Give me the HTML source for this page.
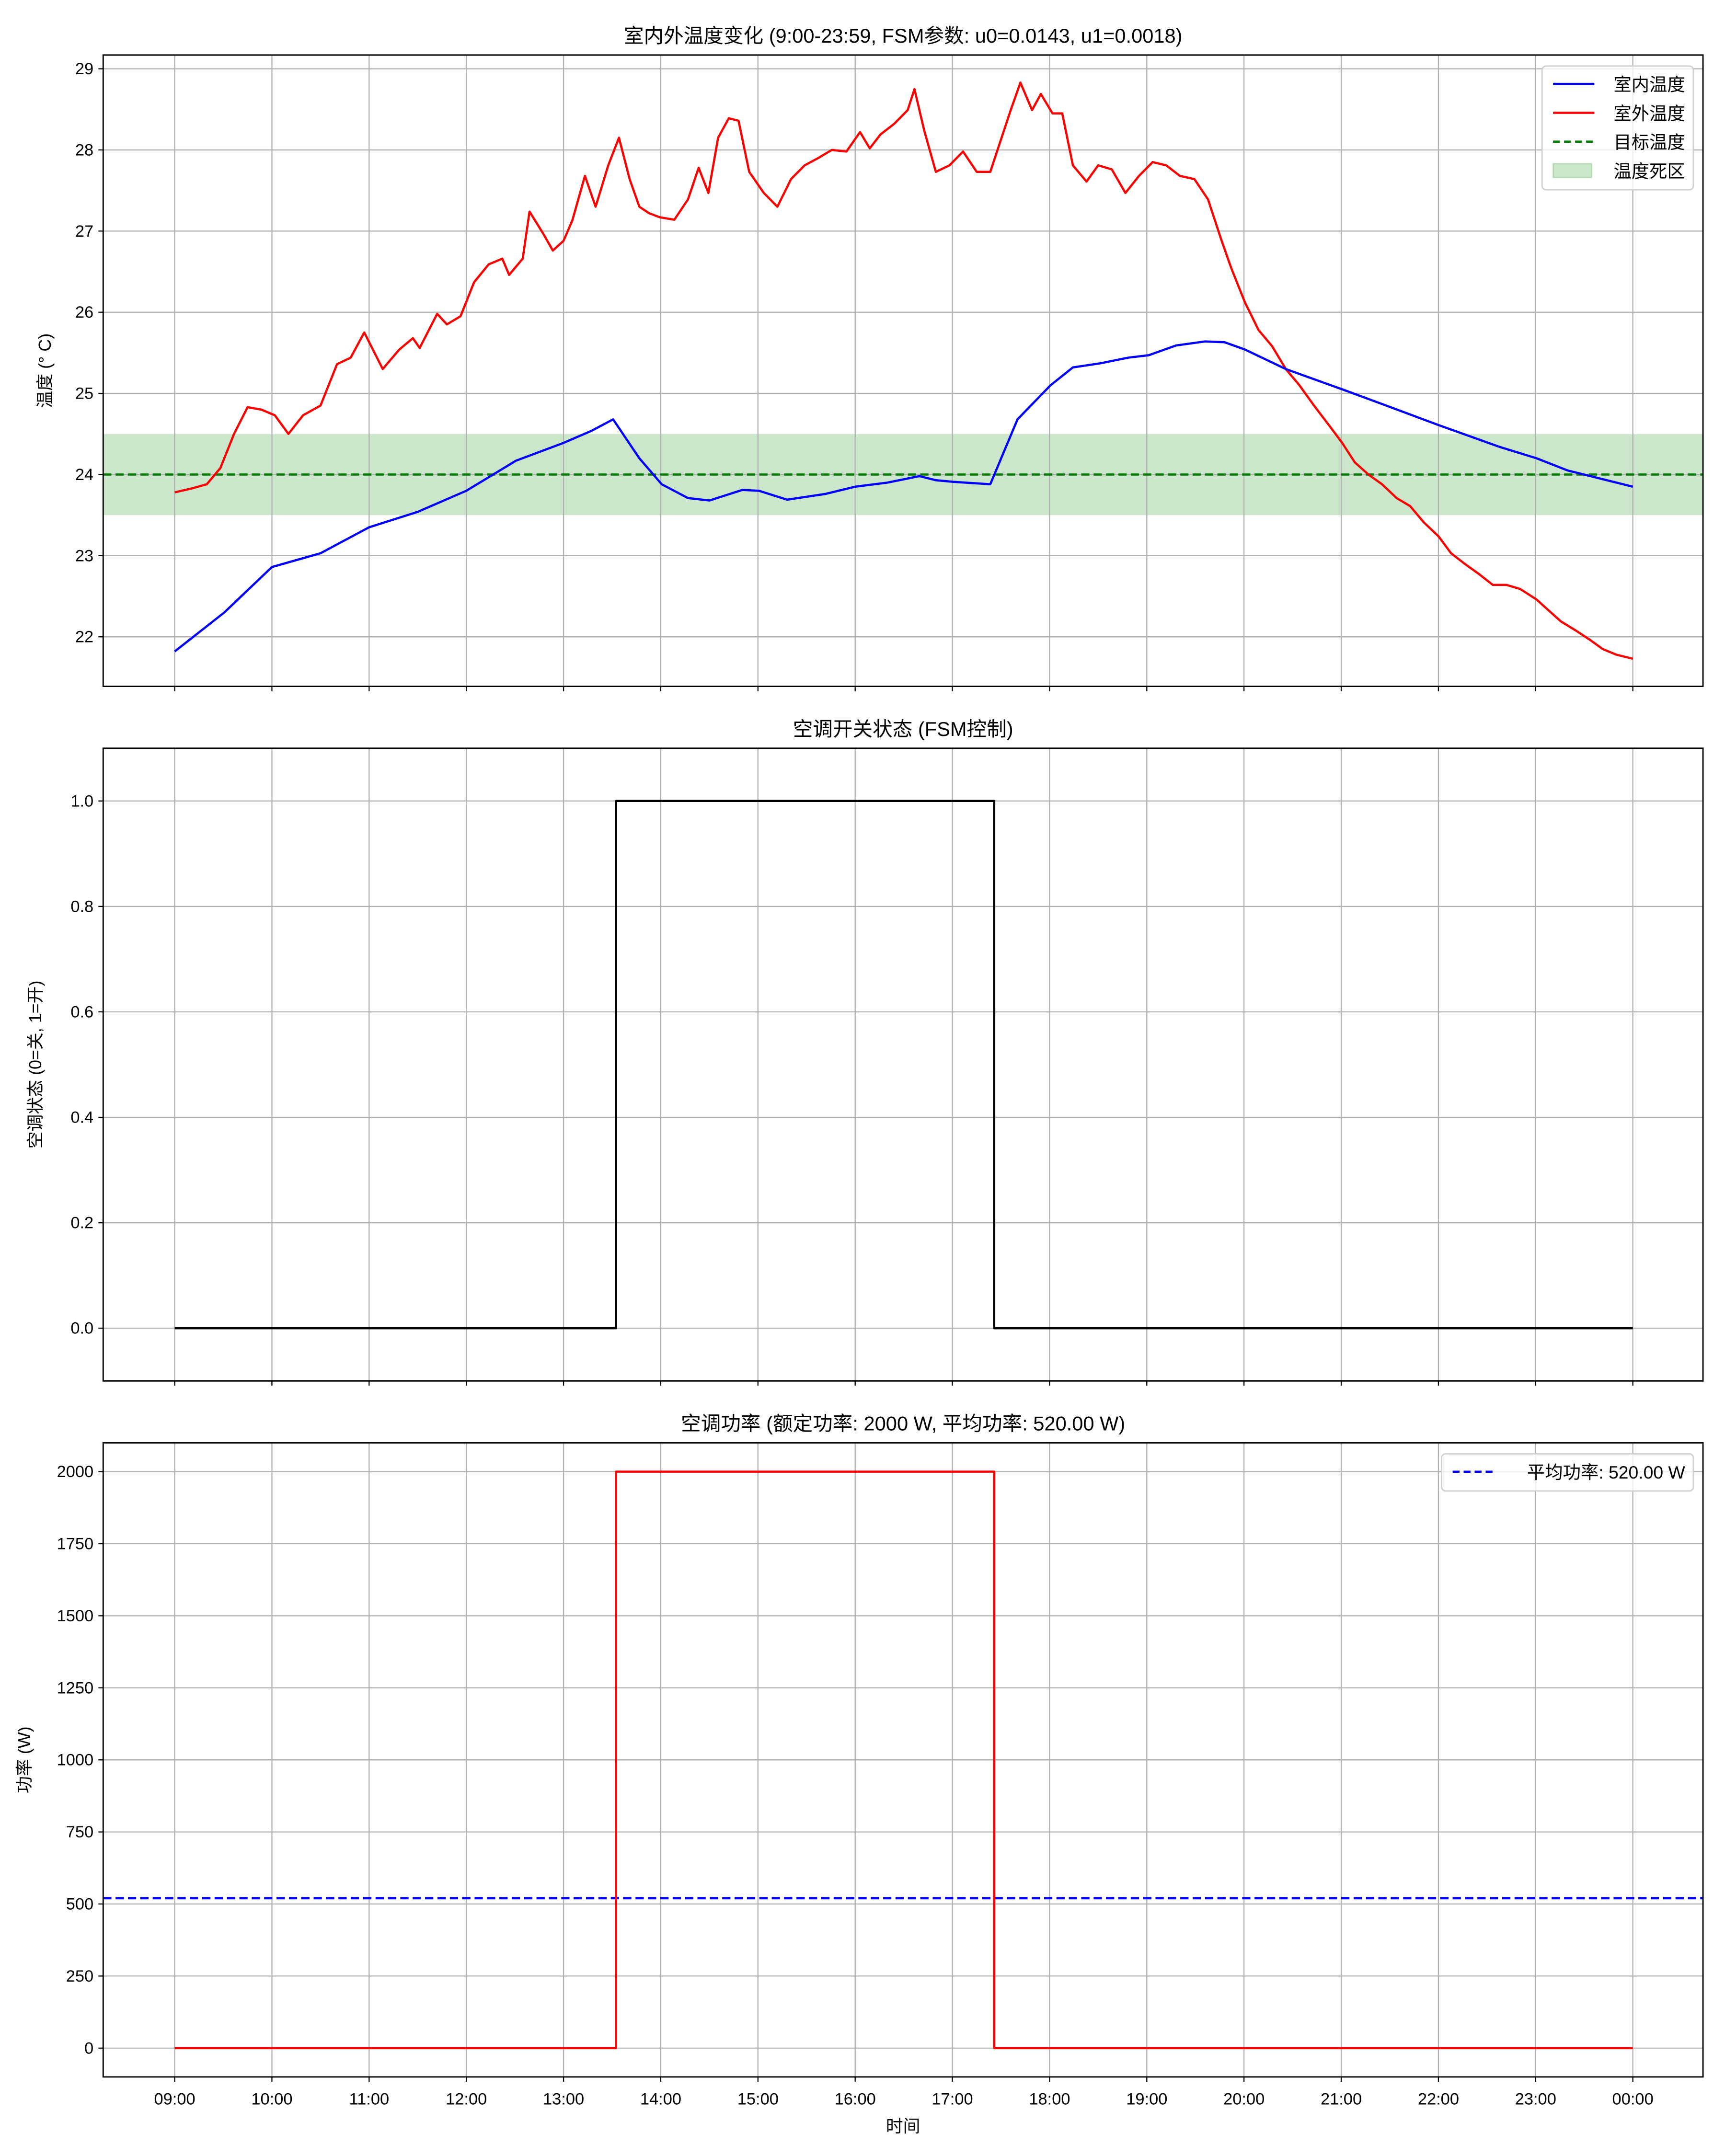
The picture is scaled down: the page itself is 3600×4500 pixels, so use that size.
<!DOCTYPE html>
<html><head><meta charset="utf-8"><style>
html,body{margin:0;padding:0;background:#fff;}
svg{display:block;}
text{font-family:"Liberation Sans","Noto Sans CJK SC",sans-serif;fill:#000;}
</style></head><body>
<svg id="fig" width="3600" height="4500" viewBox="0 0 1254 1567.5" xmlns="http://www.w3.org/2000/svg"></svg>
<script>
// ---- data ----
const hourTicks = [9,10,11,12,13,14,15,16,17,18,19,20,21,22,23,24];
const hourLabels = ["09:00","10:00","11:00","12:00","13:00","14:00","15:00","16:00","17:00","18:00","19:00","20:00","21:00","22:00","23:00","00:00"];
const indoorT = [9.00,9.51,10.00,10.50,11.00,11.50,12.00,12.51,13.00,13.29,13.51,13.78,14.01,14.28,14.50,14.84,15.01,15.30,15.69,16.00,16.33,16.66,16.83,17.01,17.39,17.67,18.01,18.24,18.52,18.81,19.02,19.30,19.60,19.80,20.01,20.43,21.01,21.35,22.00,22.63,23.01,23.33,24.00];
const indoorV = [21.82,22.30,22.86,23.03,23.35,23.54,23.80,24.17,24.39,24.54,24.68,24.20,23.88,23.71,23.68,23.81,23.80,23.69,23.76,23.85,23.90,23.98,23.93,23.91,23.88,24.68,25.10,25.32,25.37,25.44,25.47,25.59,25.64,25.63,25.54,25.30,25.05,24.90,24.61,24.34,24.20,24.05,23.85];
const outdoorT = [9.00,9.18,9.33,9.47,9.61,9.75,9.89,10.03,10.17,10.32,10.50,10.67,10.81,10.95,11.14,11.31,11.45,11.52,11.70,11.80,11.94,12.08,12.23,12.37,12.44,12.58,12.65,12.79,12.89,13.00,13.09,13.22,13.33,13.46,13.57,13.68,13.78,13.88,13.99,14.14,14.28,14.39,14.49,14.59,14.70,14.80,14.91,15.06,15.20,15.34,15.48,15.62,15.76,15.91,16.05,16.15,16.26,16.40,16.54,16.61,16.71,16.83,16.97,17.11,17.25,17.39,17.60,17.70,17.82,17.91,18.03,18.13,18.24,18.38,18.50,18.64,18.78,18.92,19.06,19.20,19.34,19.49,19.63,19.77,19.87,20.01,20.15,20.29,20.43,20.57,20.72,20.86,21.01,21.14,21.28,21.42,21.57,21.71,21.85,22.00,22.13,22.27,22.41,22.56,22.70,22.84,23.01,23.12,23.26,23.41,23.55,23.69,23.83,24.00];
const outdoorV = [23.78,23.83,23.88,24.08,24.50,24.83,24.80,24.73,24.50,24.73,24.85,25.36,25.44,25.75,25.30,25.54,25.68,25.56,25.98,25.85,25.95,26.37,26.59,26.66,26.46,26.66,27.24,26.97,26.76,26.88,27.13,27.68,27.30,27.81,28.15,27.64,27.30,27.22,27.17,27.14,27.39,27.78,27.47,28.15,28.39,28.36,27.73,27.47,27.30,27.64,27.81,27.90,28.00,27.98,28.22,28.02,28.19,28.32,28.49,28.75,28.24,27.73,27.81,27.98,27.73,27.73,28.49,28.83,28.49,28.69,28.45,28.45,27.81,27.61,27.81,27.76,27.47,27.68,27.85,27.81,27.68,27.64,27.39,26.88,26.54,26.12,25.78,25.58,25.30,25.10,24.85,24.63,24.39,24.15,24.00,23.88,23.71,23.61,23.41,23.24,23.03,22.90,22.78,22.64,22.64,22.59,22.46,22.34,22.19,22.08,21.97,21.85,21.78,21.73];
const targetTemp = [24.0];
const deadband = [23.5, 24.5];
const switchTimes = [9.0, 13.54, 17.43];
const switchStates = [0, 1, 0];
const endTime = [24.0];
const ratedPower = [2000];
const avgPower = [520];
const tempTicks = [22,23,24,25,26,27,28,29];
const stateTicks = [0,0.2,0.4,0.6,0.8,1.0];
const stateLabels = ["0.0","0.2","0.4","0.6","0.8","1.0"];
const powerTicks = [0,250,500,750,1000,1250,1500,1750,2000];

// ---- drawing ----
const NS="http://www.w3.org/2000/svg";
const svg=document.getElementById('fig');
function el(tag,attrs,parent){const e=document.createElementNS(NS,tag);for(const k in attrs)e.setAttribute(k,attrs[k]);(parent||svg).appendChild(e);return e;}
const L=75,R=1238;
const xs=h=>127+(h-9)*(1187-127)/15;
const panels=[{top:40,bot:499},{top:544,bot:1004,ymin:-0.1,ymax:1.1},{top:1049,bot:1510,ymin:-100,ymax:2100}];
panels[0].ymin=22-(499-463)/59; panels[0].ymax=29+(50-40)/59;
function ysF(p){return v=>p.bot-(v-p.ymin)/(p.ymax-p.ymin)*(p.bot-p.top);}
const titles=["室内外温度变化 (9:00-23:59, FSM参数: u0=0.0143, u1=0.0018)","空调开关状态 (FSM控制)","空调功率 (额定功率: 2000 W, 平均功率: 520.00 W)"];
const ylabels=["温度 (° C)","空调状态 (0=关, 1=开)","功率 (W)"];
const ylabX=[37,30,22];
const yt=[tempTicks,stateTicks,powerTicks];
const ytl=[tempTicks.map(String),stateLabels,powerTicks.map(String)];
const names=["temperature","ac-state","ac-power"];
panels.forEach((p,i)=>{
  const ys=ysF(p);
  const g=el('g',{});
  
  
  if(i===0){
    const r=el('rect',{x:L,y:ys(deadband[1]),width:R-L,height:ys(deadband[0])-ys(deadband[1]),fill:'rgba(0,128,0,0.2)'},g);
    
    
  }
  hourTicks.forEach((h,k)=>{
    el('line',{x1:xs(h),x2:xs(h),y1:p.top,y2:p.bot,stroke:'#b0b0b0','stroke-width':0.8},g);
    el('line',{x1:xs(h),x2:xs(h),y1:p.bot,y2:p.bot+3.5,stroke:'#000','stroke-width':0.8},g);
    if(i===2){const t=el('text',{x:xs(h),y:p.bot+20,'font-size':12,'text-anchor':'middle'},g);t.textContent=hourLabels[k];
      
      }
  });
  yt[i].forEach((v,k)=>{
    el('line',{x1:L,x2:R,y1:ys(v),y2:ys(v),stroke:'#b0b0b0','stroke-width':0.8},g);
    el('line',{x1:L-3.5,x2:L,y1:ys(v),y2:ys(v),stroke:'#000','stroke-width':0.8},g);
    const t=el('text',{x:L-7,y:ys(v)+4,'font-size':12,'text-anchor':'end'},g);t.textContent=ytl[i][k];
    
    
  });
  const tt=el('text',{x:(L+R)/2,y:p.top-9,'font-size':14.5,'text-anchor':'middle'},g);tt.textContent=titles[i];
  
  
  const cy=(p.top+p.bot)/2;
  const yl=el('text',{x:ylabX[i],y:cy,'font-size':12.5,'text-anchor':'middle',transform:`rotate(-90 ${ylabX[i]} ${cy})`},g);yl.textContent=ylabels[i];
  
  
  p.ys=ys;p.g=g;
});
function poly(ts,vs,ys,color,g,name,dash){
  const pts=ts.map((t,k)=>xs(t).toFixed(2)+','+ys(vs[k]).toFixed(2)).join(' ');
  const e=el('polyline',{points:pts,fill:'none',stroke:color,'stroke-width':1.6,'stroke-linejoin':'round'},g);
  if(dash)e.setAttribute('stroke-dasharray',dash);
  
  
}
const p1=panels[0];
const tl=el('line',{x1:L,x2:R,y1:p1.ys(targetTemp[0]),y2:p1.ys(targetTemp[0]),stroke:'#008000','stroke-width':1.6,'stroke-dasharray':'6,3'},p1.g);


poly(outdoorT,outdoorV,p1.ys,'#ff0000',p1.g,'outdoor-temp-line');
poly(indoorT,indoorV,p1.ys,'#0000ff',p1.g,'indoor-temp-line');
function stepArrays(mult){const ts=[],vs=[];switchTimes.forEach((t,k)=>{if(k>0){ts.push(t);vs.push(switchStates[k-1]*mult);}ts.push(t);vs.push(switchStates[k]*mult);});ts.push(endTime[0]);vs.push(switchStates[switchStates.length-1]*mult);return [ts,vs];}
const s1=stepArrays(1);poly(s1[0],s1[1],panels[1].ys,'#000',panels[1].g,'ac-state-line');
const p3=panels[2];
const al=el('line',{x1:L,x2:R,y1:p3.ys(avgPower[0]),y2:p3.ys(avgPower[0]),stroke:'#0000ff','stroke-width':1.6,'stroke-dasharray':'6,3'},p3.g);


const s2=stepArrays(ratedPower[0]);poly(s2[0],s2[1],p3.ys,'#ff0000',p3.g,'ac-power-line');
panels.forEach(p=>{const f=el('rect',{x:L,y:p.top,width:R-L,height:p.bot-p.top,fill:'none',stroke:'#000','stroke-width':1});
  
  });
const xl=el('text',{x:(L+R)/2,y:1550,'font-size':12.5,'text-anchor':'middle'});xl.textContent='时间';


function legend(x,y,w,items,name){
  const g=el('g',{});
  
  
  el('rect',{x:x,y:y,width:w,height:items.length*21+6,rx:3,fill:'rgba(255,255,255,0.8)',stroke:'#d0d0d0','stroke-width':1},g);
  items.forEach((it,k)=>{
    const cy=y+13+k*21;
    if(it.patch){el('rect',{x:x+8,y:cy-5,width:28,height:10,fill:'rgba(0,128,0,0.2)',stroke:'rgba(0,128,0,0.2)'},g);}
    else{const ln=el('line',{x1:x+8,x2:x+38,y1:cy,y2:cy,stroke:it.c,'stroke-width':1.6},g);if(it.d)ln.setAttribute('stroke-dasharray','5,3');}
    const t=el('text',{x:x+w-6,y:cy+5,'font-size':13,'text-anchor':'end'},g);t.textContent=it.t;
    
    
  });
}
legend(1121,48,110,[{t:'室内温度',c:'#0000ff'},{t:'室外温度',c:'#ff0000'},{t:'目标温度',c:'#008000',d:1},{t:'温度死区',patch:1}],'temperature-legend');
legend(1048,1057,183,[{t:'平均功率: 520.00 W',c:'#0000ff',d:1}],'power-legend');
</script>
</body></html>
